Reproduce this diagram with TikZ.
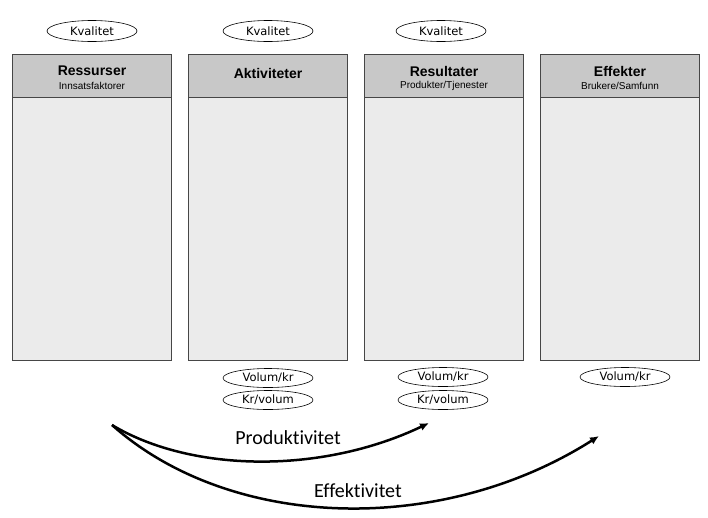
\documentclass[tikz,border=0pt]{standalone}
\usepackage{fontspec}
\setmainfont{Liberation Sans}
\newfontfamily\calib[Ligatures={NoCommon,NoRare,NoDiscretionary}]{Carlito}
\newfontfamily\verd{DejaVu Sans}
\usetikzlibrary{shapes.geometric,arrows.meta}
\definecolor{hdr}{RGB}{200,200,200}
\definecolor{bdy}{RGB}{235,235,235}
\definecolor{brd}{RGB}{70,70,70}
\tikzset{
  hdrbox/.style={draw=brd,fill=hdr,line width=0.7pt},
  bdybox/.style={draw=brd,fill=bdy,line width=0.7pt},
  oval/.style={ellipse,draw=black,line width=0.6pt,minimum width=90pt,minimum height=21pt,inner sep=0pt,font=\verd\fontsize{11.5}{13}\selectfont},
  title/.style={font=\bfseries\fontsize{14}{16}\selectfont,inner sep=0pt},
  sub/.style={font=\fontsize{10}{12}\selectfont,inner sep=0pt},
  curvelbl/.style={font=\calib\fontsize{20}{22}\selectfont,inner sep=0pt},
  bigarrow/.style={line width=2.5pt,-{Latex[length=9pt,width=8pt]}}
}
\begin{document}
\begin{tikzpicture}[x=1pt,y=-1pt]
\useasboundingbox (0,0) rectangle (708,517);
% boxes
\foreach \xl/\n in {12/a,188/b,364/c,540/d}{
  \path[bdybox] (\xl,97) rectangle (\xl+159,360);
  \path[hdrbox] (\xl,54) rectangle (\xl+159,97);
}
\node[title] (t1) at (92,71) {Ressurser};
\node[sub] (s1) at (92,86) {Innsatsfaktorer};
\node[title] (t2) at (268,73) {Aktiviteter};
\node[title] (t3) at (444,71) {Resultater};
\node[sub] (s3) at (444,86) {Produkter/Tjenester};
\node[title] (t4) at (620,71) {Effekter};
\node[sub] (s4) at (620,86) {Brukere/Samfunn};
% Kvalitet
\node[oval] (k1) at (92,31) {Kvalitet};
\node[oval] (k2) at (268,31) {Kvalitet};
\node[oval] (k3) at (441,31) {Kvalitet};
% volume
\node[oval,minimum height=19pt] (v2) at (268,378) {Volum/kr};
\node[oval,minimum height=19pt] (r2) at (268,400) {Kr/volum};
\node[oval,minimum height=19pt] (v3) at (443,377) {Volum/kr};
\node[oval,minimum height=19pt] (r3) at (443,400) {Kr/volum};
\node[oval,minimum height=19pt] (v4) at (625,377) {Volum/kr};
% arrows
\coordinate (s) at (112,425);
\coordinate (pe) at (429,423);
\coordinate (ee) at (599,436);
\draw[bigarrow] (s) .. controls (190,472) and (320,475) .. (pe);
\draw[bigarrow] (s) .. controls (230,530) and (440,537) .. (ee);
\node[curvelbl] (pl) at (288,438) {Produktivitet};
\node[curvelbl] (el) at (358,491) {Effektivitet};
\end{tikzpicture}
\end{document}
